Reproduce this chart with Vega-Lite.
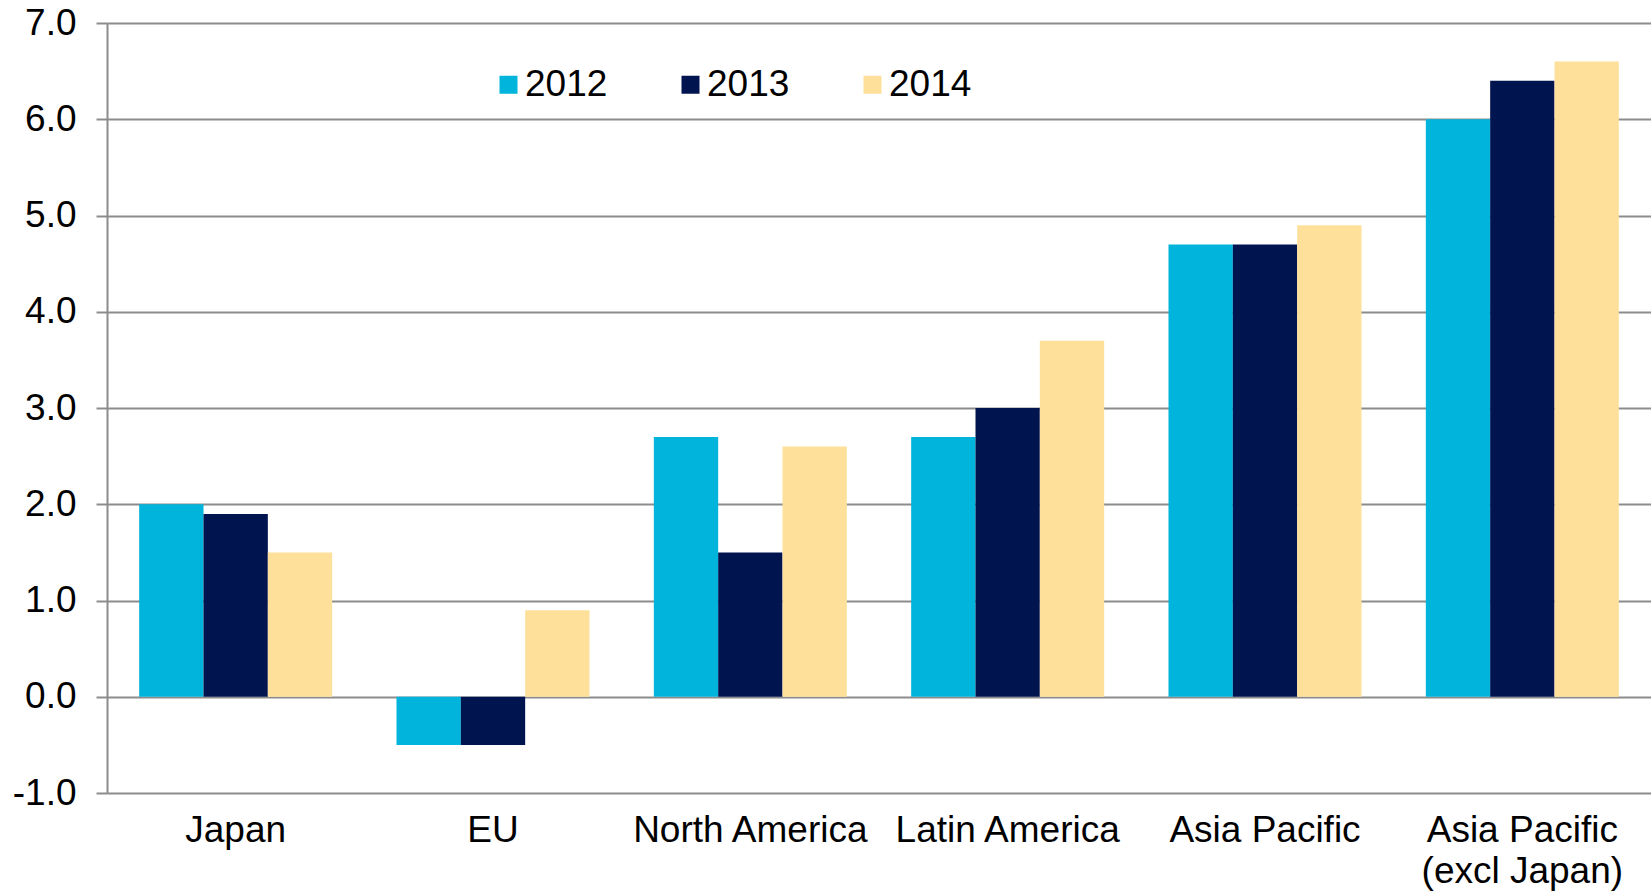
{
  "$schema": "https://vega.github.io/schema/vega-lite/v6.json",
  "width": 1544,
  "height": 770,
  "autosize": {"type": "none"},
  "padding": {"left": 107, "top": 23, "right": 0, "bottom": 98},
  "background": "white",
  "config": {
    "view": {"stroke": null},
    "font": "Liberation Sans"
  },
  "data": {
    "values": [
      {"region": "Japan", "year": "2012", "value": 2.0},
      {"region": "Japan", "year": "2013", "value": 1.9},
      {"region": "Japan", "year": "2014", "value": 1.5},
      {"region": "EU", "year": "2012", "value": -0.5},
      {"region": "EU", "year": "2013", "value": -0.5},
      {"region": "EU", "year": "2014", "value": 0.9},
      {"region": "North America", "year": "2012", "value": 2.7},
      {"region": "North America", "year": "2013", "value": 1.5},
      {"region": "North America", "year": "2014", "value": 2.6},
      {"region": "Latin America", "year": "2012", "value": 2.7},
      {"region": "Latin America", "year": "2013", "value": 3.0},
      {"region": "Latin America", "year": "2014", "value": 3.7},
      {"region": "Asia Pacific", "year": "2012", "value": 4.7},
      {"region": "Asia Pacific", "year": "2013", "value": 4.7},
      {"region": "Asia Pacific", "year": "2014", "value": 4.9},
      {"region": "Asia Pacific (excl Japan)", "year": "2012", "value": 6.0},
      {"region": "Asia Pacific (excl Japan)", "year": "2013", "value": 6.4},
      {"region": "Asia Pacific (excl Japan)", "year": "2014", "value": 6.6}
    ]
  },
  "mark": {"type": "bar"},
  "encoding": {
    "x": {
      "field": "region",
      "type": "nominal",
      "sort": null,
      "scale": {"paddingInner": 0.25, "paddingOuter": 0.125},
      "axis": {
        "title": null,
        "orient": "bottom",
        "labelAngle": 0,
        "ticks": false,
        "domain": false,
        "labelFontSize": 37,
        "labelColor": "#000000",
        "labelPadding": 19,
        "labelLineHeight": 41,
        "labelLimit": 400,
        "labelExpr": "datum.value == 'Asia Pacific (excl Japan)' ? ['Asia Pacific', '(excl Japan)'] : datum.value"
      }
    },
    "xOffset": {"field": "year", "type": "nominal", "sort": ["2012", "2013", "2014"]},
    "y": {
      "field": "value",
      "type": "quantitative",
      "scale": {"domain": [-1, 7], "nice": false, "zero": false},
      "axis": {
        "title": null,
        "values": [-1, 0, 1, 2, 3, 4, 5, 6, 7],
        "format": ".1f",
        "labelExpr": "replace(datum.label, '\u2212', '-')",
        "grid": true,
        "gridColor": "#8c8c8c",
        "gridWidth": 2,
        "domainColor": "#8c8c8c",
        "domainWidth": 2,
        "tickColor": "#8c8c8c",
        "tickWidth": 2,
        "tickSize": 11,
        "labelFontSize": 37,
        "labelColor": "#000000",
        "labelPadding": 20
      }
    },
    "color": {
      "field": "year",
      "type": "nominal",
      "scale": {"domain": ["2012", "2013", "2014"], "range": ["#00B4DC", "#001450", "#FEE09A"]},
      "legend": {
        "title": null,
        "orient": "none",
        "legendX": 383,
        "legendY": 43,
        "direction": "horizontal",
        "symbolType": "square",
        "symbolSize": 324,
        "symbolStrokeWidth": 0,
        "symbolOpacity": 1,
        "labelFontSize": 37,
        "labelColor": "#000000",
        "labelOffset": -2,
        "columnPadding": 64
      }
    }
  }
}
